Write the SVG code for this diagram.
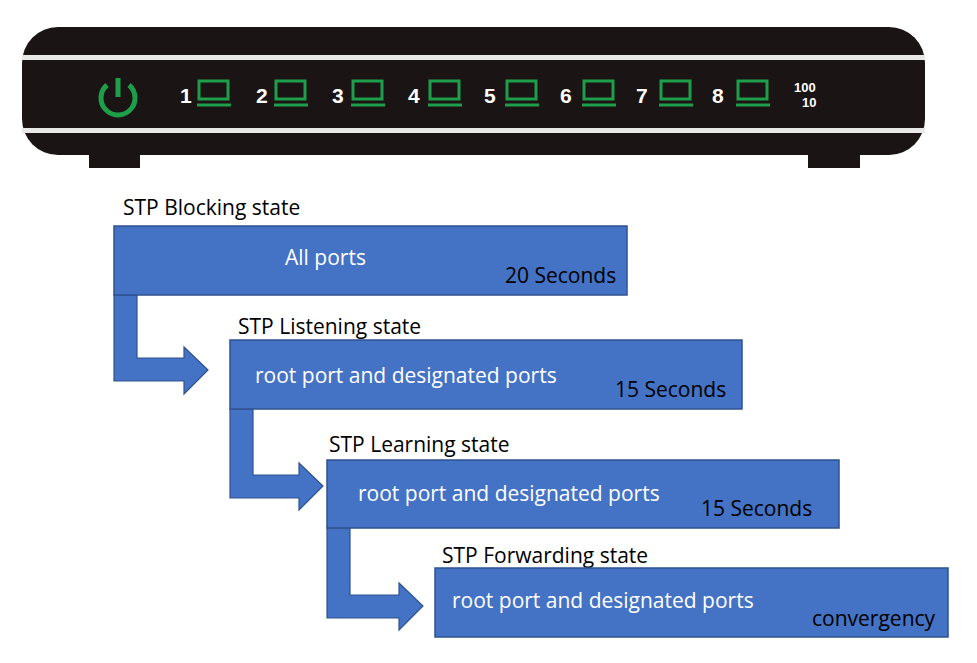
<svg xmlns="http://www.w3.org/2000/svg" width="977" height="663" viewBox="0 0 977 663">
<style>
.box{fill:#4472C4;stroke:#2F528F;stroke-width:1.5}
.arr{fill:#4472C4;stroke:#2F528F;stroke-width:1.2}
.t{font-family:"Open Sans","Liberation Sans",sans-serif;font-size:21px}
.w{fill:#fff}
.k{fill:#000}
.num{font-family:"Liberation Sans",Arial,sans-serif;font-weight:bold;font-size:21px;fill:#fff}
.led{fill:none;stroke:#1E9E4A;stroke-width:3}
</style>
<rect width="977" height="663" fill="#fff"/>
<g id="router">
<rect x="89" y="145" width="51" height="23" fill="#1a1414"/>
<rect x="808" y="145" width="52" height="23" fill="#1a1414"/>
<rect x="22" y="27" width="903" height="128" rx="36" fill="#1a1414"/>
<rect x="22" y="55" width="903" height="5" fill="#e8e8e8"/>
<rect x="22" y="128" width="903" height="5" fill="#e8e8e8"/>
<path d="M107,85 A17,17 0 1 0 129,85" fill="none" stroke="#1E9E4A" stroke-width="5"/>
<line x1="118" y1="78" x2="118" y2="97" stroke="#1E9E4A" stroke-width="5"/>
<g id="leds">
<text class="num" x="180" y="103">1</text><rect class="led" x="199" y="81" width="29" height="18"/><line x1="197" y1="105" x2="231" y2="105" stroke="#1E9E4A" stroke-width="3"/>
<text class="num" x="256" y="103">2</text><rect class="led" x="276" y="81" width="29" height="18"/><line x1="274" y1="105" x2="308" y2="105" stroke="#1E9E4A" stroke-width="3"/>
<text class="num" x="332" y="103">3</text><rect class="led" x="353" y="81" width="29" height="18"/><line x1="351" y1="105" x2="385" y2="105" stroke="#1E9E4A" stroke-width="3"/>
<text class="num" x="408" y="103">4</text><rect class="led" x="430" y="81" width="29" height="18"/><line x1="428" y1="105" x2="462" y2="105" stroke="#1E9E4A" stroke-width="3"/>
<text class="num" x="484" y="103">5</text><rect class="led" x="507" y="81" width="29" height="18"/><line x1="505" y1="105" x2="539" y2="105" stroke="#1E9E4A" stroke-width="3"/>
<text class="num" x="560" y="103">6</text><rect class="led" x="584" y="81" width="29" height="18"/><line x1="582" y1="105" x2="616" y2="105" stroke="#1E9E4A" stroke-width="3"/>
<text class="num" x="636" y="103">7</text><rect class="led" x="661" y="81" width="29" height="18"/><line x1="659" y1="105" x2="693" y2="105" stroke="#1E9E4A" stroke-width="3"/>
<text class="num" x="712" y="103">8</text><rect class="led" x="738" y="81" width="29" height="18"/><line x1="736" y1="105" x2="770" y2="105" stroke="#1E9E4A" stroke-width="3"/>
<text x="794" y="92" style="font-family:'Liberation Sans',sans-serif;font-weight:bold;font-size:13px;fill:#fff">100</text>
<text x="802" y="107" style="font-family:'Liberation Sans',sans-serif;font-weight:bold;font-size:13px;fill:#fff">10</text>
</g>
</g>
<g id="connectors">
<path class="arr" d="M114,295 H137 V358 H184 V347 L208,370 L184,394 V381 H114 Z"/>
<path class="arr" d="M230,409 H253 V475 H299 V463 L323,486 L299,510 V498 H230 Z"/>
<path class="arr" d="M327,528 H350 V595 H399 V583 L423,606 L399,630 V618 H327 Z"/>
</g>
<g id="blocking">
<text class="t k" x="123" y="215">STP Blocking state</text>
<rect class="box" x="114" y="226" width="513" height="69"/>
<text class="t w" x="285" y="265">All ports</text>
<text class="t k" x="505" y="283">20 Seconds</text>
</g>
<g id="listening">
<text class="t k" x="238" y="334">STP Listening state</text>
<rect class="box" x="230" y="340" width="512" height="69"/>
<text class="t w" x="255" y="383">root port and designated ports</text>
<text class="t k" x="615" y="397">15 Seconds</text>
</g>
<g id="learning">
<text class="t k" x="329" y="452">STP Learning state</text>
<rect class="box" x="327" y="460" width="512" height="68"/>
<text class="t w" x="358" y="501">root port and designated ports</text>
<text class="t k" x="701" y="516">15 Seconds</text>
</g>
<g id="forwarding">
<text class="t k" x="442" y="563">STP Forwarding state</text>
<rect class="box" x="435" y="568" width="513" height="69"/>
<text class="t w" x="452" y="608">root port and designated ports</text>
<text class="t k" x="812" y="626">convergency</text>
</g>
</svg>
